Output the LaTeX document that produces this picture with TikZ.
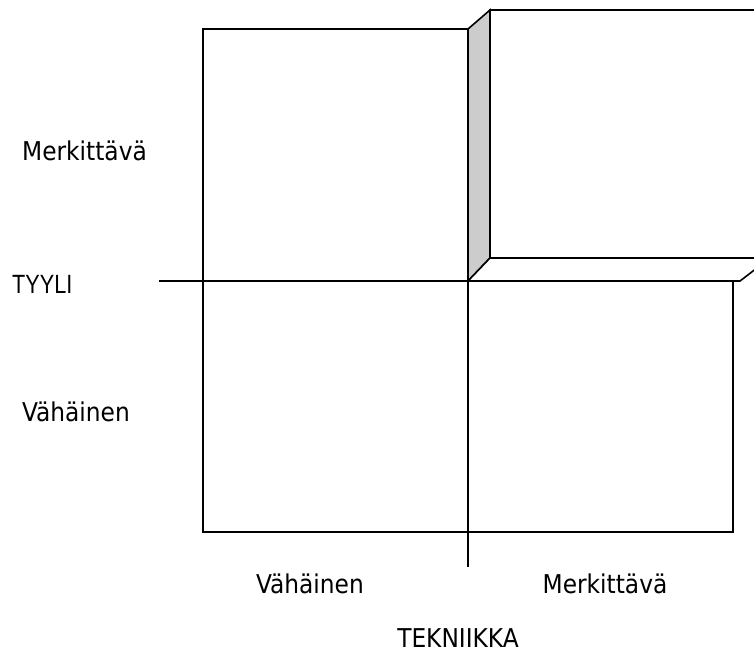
\documentclass[tikz,border=0pt]{standalone}
\usepackage{fontspec}
\usepackage{graphicx}
\setmainfont{DejaVu Sans Condensed}
\newfontfamily\arialfont{Liberation Sans}
\begin{document}
\begin{tikzpicture}[x=1bp,y=-1bp,
    edge/.style={draw=black,line width=1.6bp},
    axisline/.style={draw=black,line width=1.3bp},
    lbl/.style={font=\fontsize{26}{30}\selectfont,inner sep=0pt}]
  \useasboundingbox (0,0) rectangle (754,655);
  \clip (0,0) rectangle (754,655);
  % four-field grid
  \draw[edge] (203,29) rectangle (733,532);
  % raised block in the upper right field
  \filldraw[edge,fill=black!20] (468,29) -- (490,10) -- (490,258) -- (468,281) -- cycle;
  \filldraw[edge,fill=white] (468,281) -- (490,258) -- (770,258) -- (740,281) -- cycle;
  \filldraw[edge,fill=white] (490,10) rectangle (770,258);
  % axes
  \coordinate (hl) at (159,281);
  \coordinate (hr) at (740,281);
  \coordinate (vt) at (468,29);
  \coordinate (vb) at (468,567);
  \draw[axisline] (hl) -- (hr);
  \draw[axisline] (vt) -- (vb);
  % labels
  \node[lbl,anchor=base west] (yhi) at (22,160) {Merkittävä};
  \node[lbl,anchor=base west,font=\arialfont\fontsize{26.5}{30}\selectfont] (yax) at (12,293) {\scalebox{0.82}[1]{TYYLI}};
  \node[lbl,anchor=base west] (ylo) at (22,421) {Vähäinen};
  \node[lbl,anchor=base] (xlo) at (310,593) {Vähäinen};
  \node[lbl,anchor=base] (xhi) at (605,593) {Merkittävä};
  \node[lbl,anchor=base] (xax) at (458,647) {TEKNIIKKA};
\end{tikzpicture}
\end{document}
